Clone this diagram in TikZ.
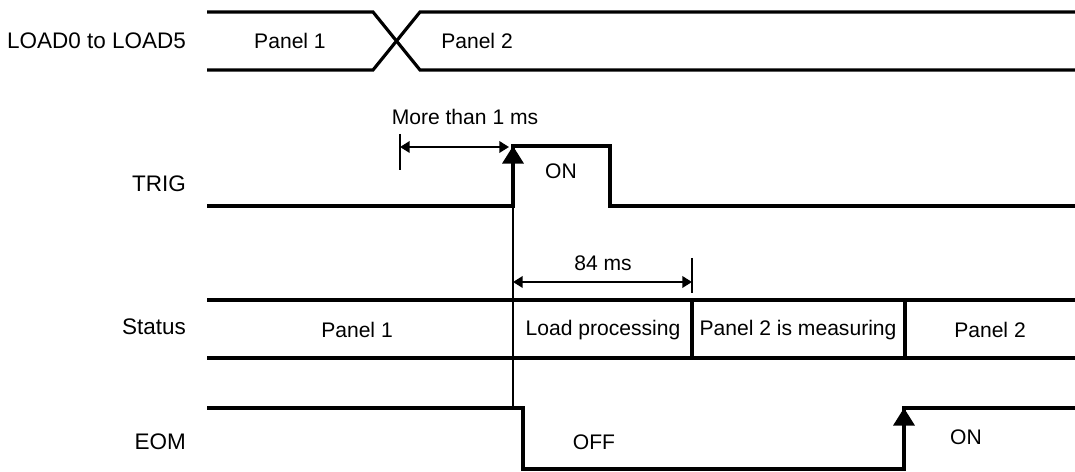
\documentclass[tikz,border=0pt]{standalone}
\usepackage{fontspec}
\setmainfont{Liberation Sans}
\usetikzlibrary{arrows.meta,positioning}

\begin{document}
\begin{tikzpicture}[
    x=0.02cm, y=-0.02cm,
    wave/.style={line width=1.8pt, line join=miter},
    marker/.style={line width=1.2pt},
    edgearrow/.style={line width=1.8pt, -{Triangle[length=10pt, width=12pt]}},
    dim/.style={line width=1.2pt, {Triangle[length=5.5pt, width=6.5pt]}-{Triangle[length=5.5pt, width=6.5pt]}},
    sig/.style={anchor=east, font=\fontsize{12.8}{15}\selectfont},
    txt/.style={font=\fontsize{12}{14}\selectfont}
]
\useasboundingbox (0,0) rectangle (1075,472);

% Signal names
\node[sig] (loadname) at (192,41) {LOAD0 to LOAD5};
\node[sig] (trigname) at (192,184) {TRIG};
\node[sig] (statusname) at (192,327) {Status};
\node[sig] (eomname) at (192,442) {EOM};

% LOAD bus with crossing
\draw[wave] (207,12) -- (373,12) -- (420,70) -- (1075,70);
\draw[wave] (207,70) -- (373,70) -- (420,12) -- (1075,12);
\node[txt] (load1) at (290,41) {Panel 1};
\node[txt] (load2) at (477,41) {Panel 2};

% TRIG
\coordinate (trigup) at (513,206);
\coordinate (trighi) at (513,146);
\draw[wave] (207,206) -- (trigup) -- (trighi) -- (610,146) -- (610,206) -- (1075,206);
\draw[edgearrow] (trigup) -- (trighi);
\node[txt] (trigon) at (561,171) {ON};

% More than 1 ms
\coordinate (tick1) at (400,147);
\draw[marker] (400,134) -- (400,170);
\draw[dim] (tick1) -- (509,147);
\node[txt] (t1ms) at (465,117) {More than 1 ms};

% 84 ms
\coordinate (tick2) at (692,282);
\draw[marker] (692,258) -- (692,293);
\draw[dim] (513,282) -- (tick2);
\node[txt] (t84) at (603,263) {84 ms};

% Status bus
\draw[wave] (207,300) -- (1075,300);
\draw[wave] (207,358) -- (1075,358);
\draw[wave] (692,300) -- (692,358);
\draw[wave] (905,300) -- (905,358);
\node[txt] (st1) at (357,330) {Panel 1};
\node[txt] (st2) at (603,330) {Load processing};
\node[txt] (st3) at (798,330) {Panel 2 is measuring};
\node[txt] (st4) at (990,330) {Panel 2};

% trigger marker line
\draw[marker] (trighi) -- (513,408);

% EOM
\coordinate (eomup) at (904,469);
\coordinate (eomhi) at (904,408);
\draw[wave] (207,408) -- (523,408) -- (523,469) -- (eomup) -- (eomhi) -- (1075,408);
\draw[edgearrow] (eomup) -- (eomhi);
\node[txt] (eomoff) at (594,442) {OFF};
\node[txt] (eomon) at (966,437) {ON};

\end{tikzpicture}
\end{document}
